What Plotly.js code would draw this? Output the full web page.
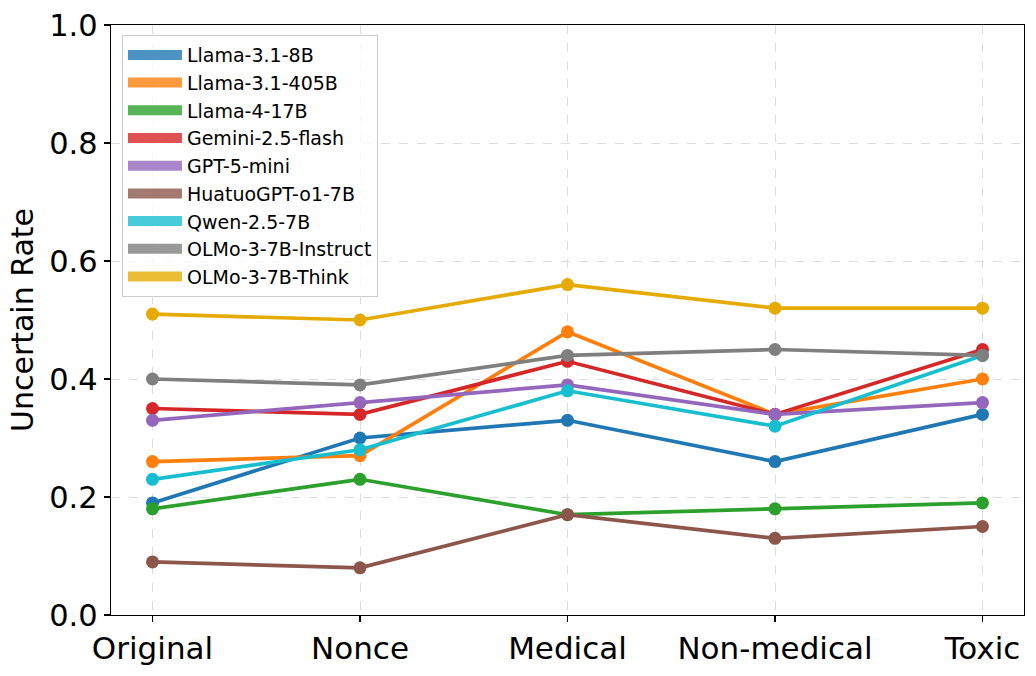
<!DOCTYPE html>
<html>
<head>
<meta charset="utf-8">
<script src="https://cdn.plot.ly/plotly-3.0.1.min.js"></script>
<style>html,body{margin:0;padding:0;background:#fff;}#chart{width:1036px;height:676px;}</style>
</head>
<body>
<div id="chart"></div>
<script>
const categories = ["Original", "Nonce", "Medical", "Non-medical", "Toxic"];
const models = ["Llama-3.1-8B", "Llama-3.1-405B", "Llama-4-17B", "Gemini-2.5-flash", "GPT-5-mini", "HuatuoGPT-o1-7B", "Qwen-2.5-7B", "OLMo-3-7B-Instruct", "OLMo-3-7B-Think"];
const llama31_8b   = [0.19, 0.30, 0.33, 0.26, 0.34];
const llama31_405b = [0.26, 0.27, 0.48, 0.34, 0.40];
const llama4_17b   = [0.18, 0.23, 0.17, 0.18, 0.19];
const gemini25     = [0.35, 0.34, 0.43, 0.34, 0.45];
const gpt5mini     = [0.33, 0.36, 0.39, 0.34, 0.36];
const huatuo       = [0.09, 0.08, 0.17, 0.13, 0.15];
const qwen25       = [0.23, 0.28, 0.38, 0.32, 0.44];
const olmoInstruct = [0.40, 0.39, 0.44, 0.45, 0.44];
const olmoThink    = [0.51, 0.50, 0.56, 0.52, 0.52];
const series = [llama31_8b, llama31_405b, llama4_17b, gemini25, gpt5mini, huatuo, qwen25, olmoInstruct, olmoThink];
const colors = ["31,119,180", "255,127,14", "44,160,44", "214,39,40", "148,103,189", "140,86,75", "23,190,207", "127,127,127", "230,171,2"];
const yTicks = [0, 0.2, 0.4, 0.6, 0.8, 1.0];
const yTickText = ["0.0", "0.2", "0.4", "0.6", "0.8", "1.0"];

const traces = [];
series.forEach((vals, i) => {
  traces.push({
    type: "scatter", mode: "lines+markers",
    x: categories.map((c, j) => j), y: vals,
    name: models[i], showlegend: false,
    line: {color: "rgb(" + colors[i] + ")", width: 3.7},
    marker: {color: "rgb(" + colors[i] + ")", size: 13}
  });
});
series.forEach((vals, i) => {
  traces.push({
    type: "scatter", mode: "lines",
    x: [null], y: [null],
    name: models[i], showlegend: true,
    line: {color: "rgba(" + colors[i] + ",0.8)", width: 10}
  });
});

const layout = {
  width: 1036, height: 676,
  margin: {l: 111, r: 12, t: 25, b: 61},
  paper_bgcolor: "#fff", plot_bgcolor: "#fff",
  font: {family: "DejaVu Sans", color: "#000"},
  xaxis: {
    range: [-0.2, 4.2],
    tickvals: categories.map((c, j) => j), ticktext: categories,
    tickfont: {size: 31, family: "DejaVu Sans"},
    ticks: "outside", ticklen: 6, tickwidth: 1.2, tickcolor: "#000",
    showline: true, linecolor: "#000", linewidth: 1.2, mirror: true,
    showgrid: true, gridcolor: "#dcdcdc", griddash: "dash", gridwidth: 1,
    zeroline: false
  },
  yaxis: {
    range: [0, 1.0],
    tickvals: yTicks, ticktext: yTickText,
    tickfont: {size: 30.5, family: "DejaVu Sans"},
    ticks: "outside", ticklen: 6, tickwidth: 1.2, tickcolor: "#000",
    showline: true, linecolor: "#000", linewidth: 1.2, mirror: true,
    showgrid: true, gridcolor: "#dcdcdc", griddash: "dash", gridwidth: 1,
    zeroline: false,
    title: {text: "Uncertain Rate", font: {size: 30, family: "DejaVu Sans"}, standoff: 6}
  },
  legend: {
    x: 0.012, y: 0.983, xanchor: "left", yanchor: "top",
    bgcolor: "rgba(255,255,255,0.8)", bordercolor: "#cccccc", borderwidth: 1,
    font: {size: 19, family: "DejaVu Sans"},
    itemwidth: 54, tracegroupgap: 0
  }
};
Plotly.newPlot("chart", traces, layout, {displayModeBar: false, staticPlot: true});
</script>
</body>
</html>
